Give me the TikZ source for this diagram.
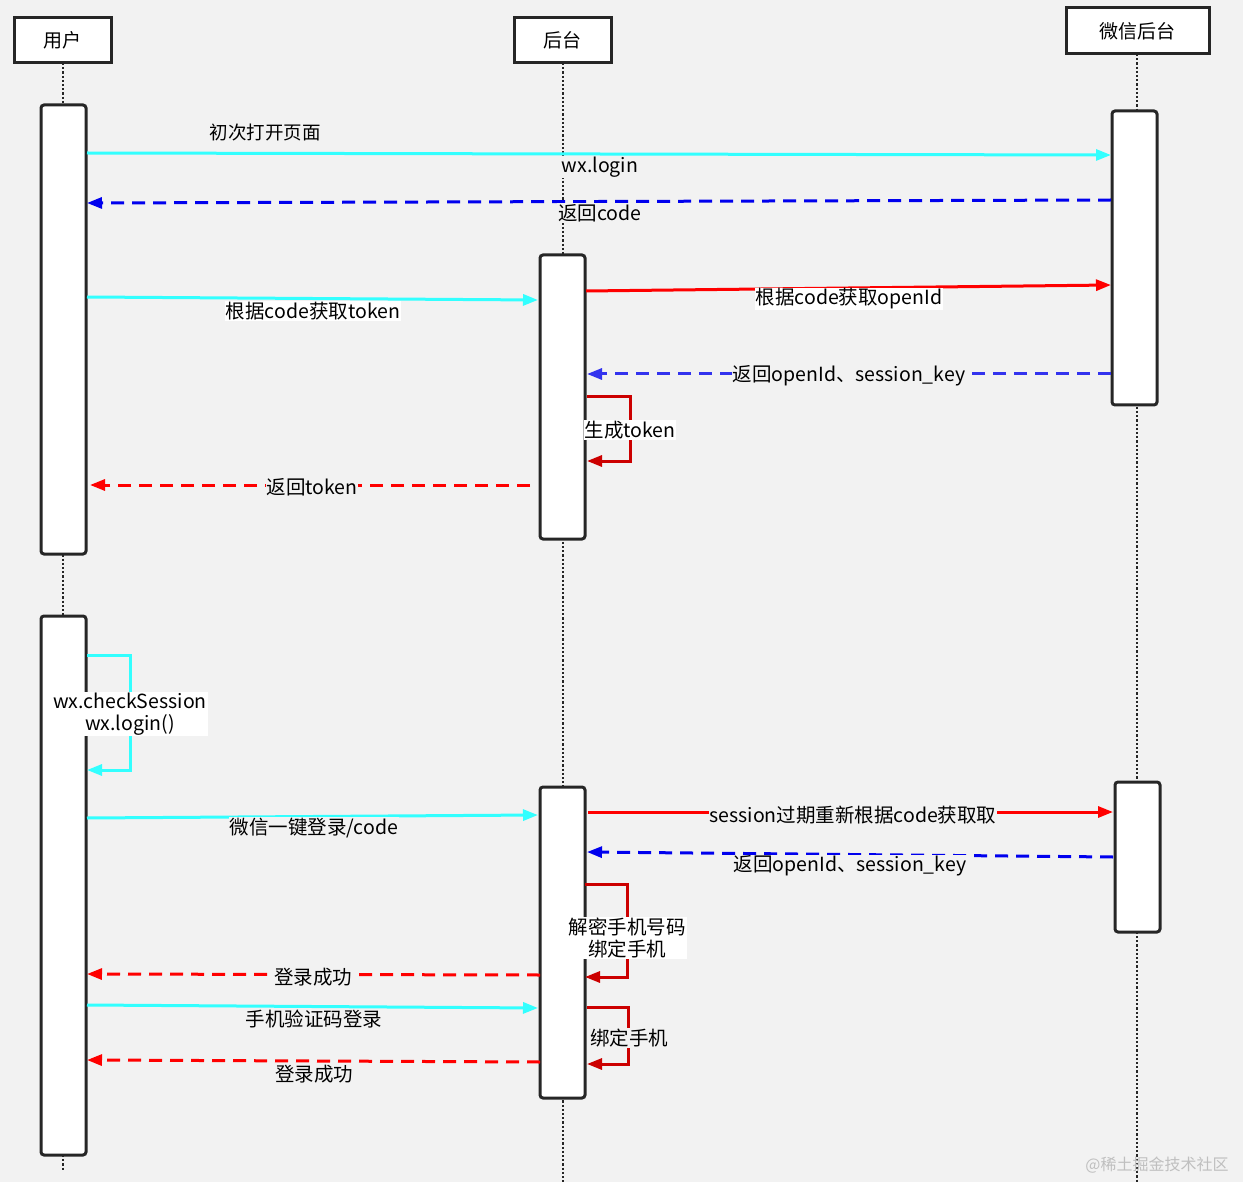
\documentclass[tikz,border=0pt]{standalone}
\usepackage{fontspec}
\setmainfont{Noto Sans CJK SC}
\usetikzlibrary{arrows.meta}
\definecolor{bg}{HTML}{F2F2F2}
\definecolor{cy}{HTML}{33FFFF}
\definecolor{bl}{HTML}{0000EE}
\definecolor{lb}{HTML}{3333EE}
\definecolor{rd}{HTML}{FF0000}
\definecolor{drd}{HTML}{CC0000}
\begin{document}
\begin{tikzpicture}[x=1pt,y=-1pt,
  hdr/.style={draw=black!85,line width=3pt,fill=white,minimum height=45pt,font=\fontsize{19}{21}\selectfont,inner sep=0pt},
  act/.style={draw=black!85,line width=3pt,fill=white,rounded corners=3pt},
  life/.style={black!85,line width=2.2pt,dotted},
  msg/.style={line width=3pt,-{Triangle[length=15pt,width=11pt]}},
  dsh/.style={msg,dash pattern=on 13pt off 8pt},
  lbl/.style={fill=bg,font=\fontsize{19.5}{22}\selectfont,inner sep=1pt,align=center},
  lblw/.style={fill=white,font=\fontsize{19.5}{22}\selectfont,inner sep=1pt,align=center}]
\fill[bg] (0,0) rectangle (1243,1182);
\useasboundingbox (0,0) rectangle (1243,1182);
% lifelines
\coordinate (u0) at (63,63); \coordinate (u1) at (63,1170);
\coordinate (b0) at (563,63); \coordinate (b1) at (563,1182);
\coordinate (w0) at (1137,54); \coordinate (w1) at (1137,1182);
\draw[life] (u0)--(u1); \draw[life] (b0)--(b1); \draw[life] (w0)--(w1);
\node[hdr,minimum width=97pt] (U) at (62.5,40.5) {用户};
\node[hdr,minimum width=97pt] (B) at (562.5,40.5) {后台};
\node[hdr,minimum width=143pt,minimum height=46pt] (W) at (1137.5,31) {微信后台};
% activations
\draw[act] (41,105) rectangle (86,554);
\draw[act] (41,616) rectangle (86,1155);
\draw[act] (540,255) rectangle (585,539);
\draw[act] (540,787) rectangle (585,1098);
\draw[act] (1112,111) rectangle (1157,405);
\draw[act] (1115,782) rectangle (1160,932);
% messages
\draw[msg,cy] (87,153) -- (1111,155);
\node[font=\fontsize{18.5}{20}\selectfont] (l1) at (265,133) {初次打开页面};
\node[lbl] (l1b) at (600,167) {wx.login};
\draw[dsh,bl] (1111,200) -- (87,203);
\node[lbl] (l2) at (600,213) {返回code};
\draw[msg,cy] (87,297) -- (538,300);
\node[lblw] (l3) at (313,311) {根据code获取token};
\draw[msg,rd] (586,291) -- (1111,285);
\node[lblw] (l4) at (849,299) {根据code获取openId};
\draw[dsh,lb] (1111,374) -- (587,374);
\node[lbl] (l5) at (849,376) {返回openId、session\_key};
\draw[msg,drd] (587,397) -- (630,397) -- (630,461) -- (587,461);
\node[lblw] (l6) at (630,430) {生成token};
\draw[dsh,rd] (530,485) -- (90,485);
\node[lbl] (l7) at (312,487) {返回token};
\draw[msg,cy] (87,655) -- (130,655) -- (130,770) -- (87,770);
\node[lblw] (l8) at (130,714) {wx.checkSession\\wx.login()};
\draw[msg,cy] (87,818) -- (538,815);
\node[lbl] (l9) at (314,828) {微信一键登录/code};
\draw[msg,rd] (588,812) -- (1113,812);
\node[lbl] (l10) at (853,815) {session过期重新根据code获取取};
\draw[dsh,bl] (1113,857) -- (587,852);
\node[lbl] (l11) at (850,866) {返回openId、session\_key};
\draw[msg,drd] (585,884) -- (627,884) -- (627,977) -- (585,977);
\node[lblw] (l12) at (627,938) {解密手机号码\\绑定手机};
\draw[dsh,rd] (540,975) -- (87,974);
\node[lbl] (l13) at (313,977) {登录成功};
\draw[msg,cy] (87,1005) -- (538,1008);
\node[lbl] (l14) at (314,1019) {手机验证码登录};
\draw[msg,drd] (587,1007) -- (628,1007) -- (628,1064) -- (587,1064);
\node[lbl] (l15) at (629,1038) {绑定手机};
\draw[dsh,rd] (540,1062) -- (87,1060);
\node[lbl] (l16) at (314,1074) {登录成功};
\node[text=black!25,font=\fontsize{16}{18}\selectfont] (wm) at (1157,1165) {@稀土掘金技术社区};
\end{tikzpicture}
\end{document}
